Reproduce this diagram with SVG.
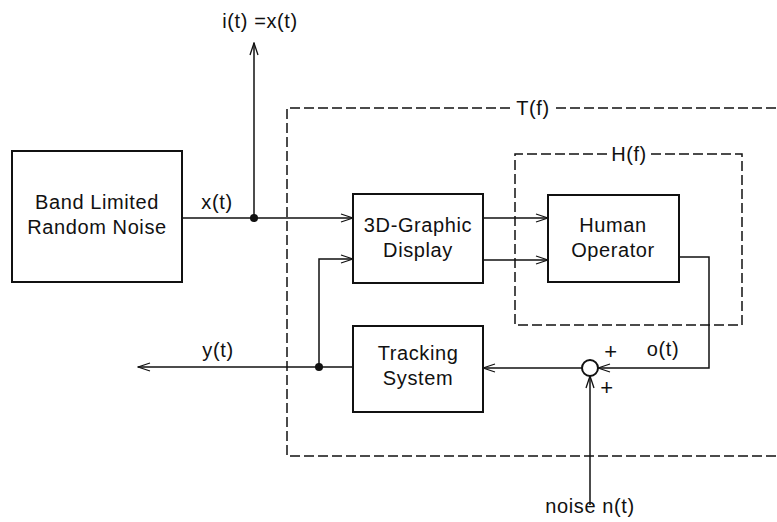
<svg xmlns="http://www.w3.org/2000/svg" width="777" height="522" viewBox="0 0 777 522">
<style>
.box{fill:#fff;stroke:#111;stroke-width:2}
.dash{fill:none;stroke:#111;stroke-width:1.5;stroke-dasharray:10 4}
.ln{fill:none;stroke:#111;stroke-width:1.5}
text{font-family:"Liberation Sans",Arial,sans-serif;font-size:20px;letter-spacing:0.6px;fill:#111;text-anchor:middle}
.pl{font-size:22px}
</style>
<defs>
<marker id="a" markerWidth="14" markerHeight="10" refX="13" refY="5" orient="auto" markerUnits="userSpaceOnUse">
<path d="M1,1 L13,5 L1,9" fill="none" stroke="#111" stroke-width="1.3"/>
</marker>
</defs>
<g id="T">
<path class="dash" d="M510,108 H287 V456 H777 M556,108 H777"/>
<text x="533" y="115">T(f)</text>
</g>
<g id="H">
<path class="dash" d="M607,154 H515 V325 H742 V154 H651"/>
<text x="629" y="161">H(f)</text>
</g>
<g id="connectors">
<path class="ln" d="M182,218 H353" marker-end="url(#a)"/>
<path class="ln" d="M254,218 V43" marker-end="url(#a)"/>
<path class="ln" d="M483,218 H548" marker-end="url(#a)"/>
<path class="ln" d="M483,260 H548" marker-end="url(#a)"/>
<path class="ln" d="M680,257 H709 V368 H598" marker-end="url(#a)"/>
<path class="ln" d="M582,368 H483" marker-end="url(#a)"/>
<path class="ln" d="M353,367 H138" marker-end="url(#a)"/>
<path class="ln" d="M319,367 V259 H353" marker-end="url(#a)"/>
<path class="ln" d="M590,505 V376" marker-end="url(#a)"/>
<circle cx="254" cy="218" r="4" fill="#111"/>
<circle cx="319" cy="367" r="4" fill="#111"/>
</g>
<g id="noise">
<rect class="box" x="12" y="151" width="170" height="131"/>
<text x="97" y="209">Band Limited</text>
<text x="97" y="234">Random Noise</text>
</g>
<g id="display">
<rect class="box" x="353" y="194" width="130" height="89"/>
<text x="418" y="232">3D-Graphic</text>
<text x="418" y="257">Display</text>
</g>
<g id="human">
<rect class="box" x="548" y="195" width="131" height="87"/>
<text x="613" y="232">Human</text>
<text x="613" y="257">Operator</text>
</g>
<g id="tracking">
<rect class="box" x="353" y="326" width="130" height="86"/>
<text x="418" y="360">Tracking</text>
<text x="418" y="385">System</text>
</g>
<g id="sum">
<circle cx="590" cy="368" r="8" fill="#fff" stroke="#111" stroke-width="2"/>
<text class="pl" x="611" y="359">+</text>
<text class="pl" x="607" y="395">+</text>
</g>
<g id="labels">
<text x="260" y="28">i(t) =x(t)</text>
<text x="217" y="209">x(t)</text>
<text x="218" y="357">y(t)</text>
<text x="663" y="356">o(t)</text>
<text x="590" y="513">noise n(t)</text>
</g>
</svg>
